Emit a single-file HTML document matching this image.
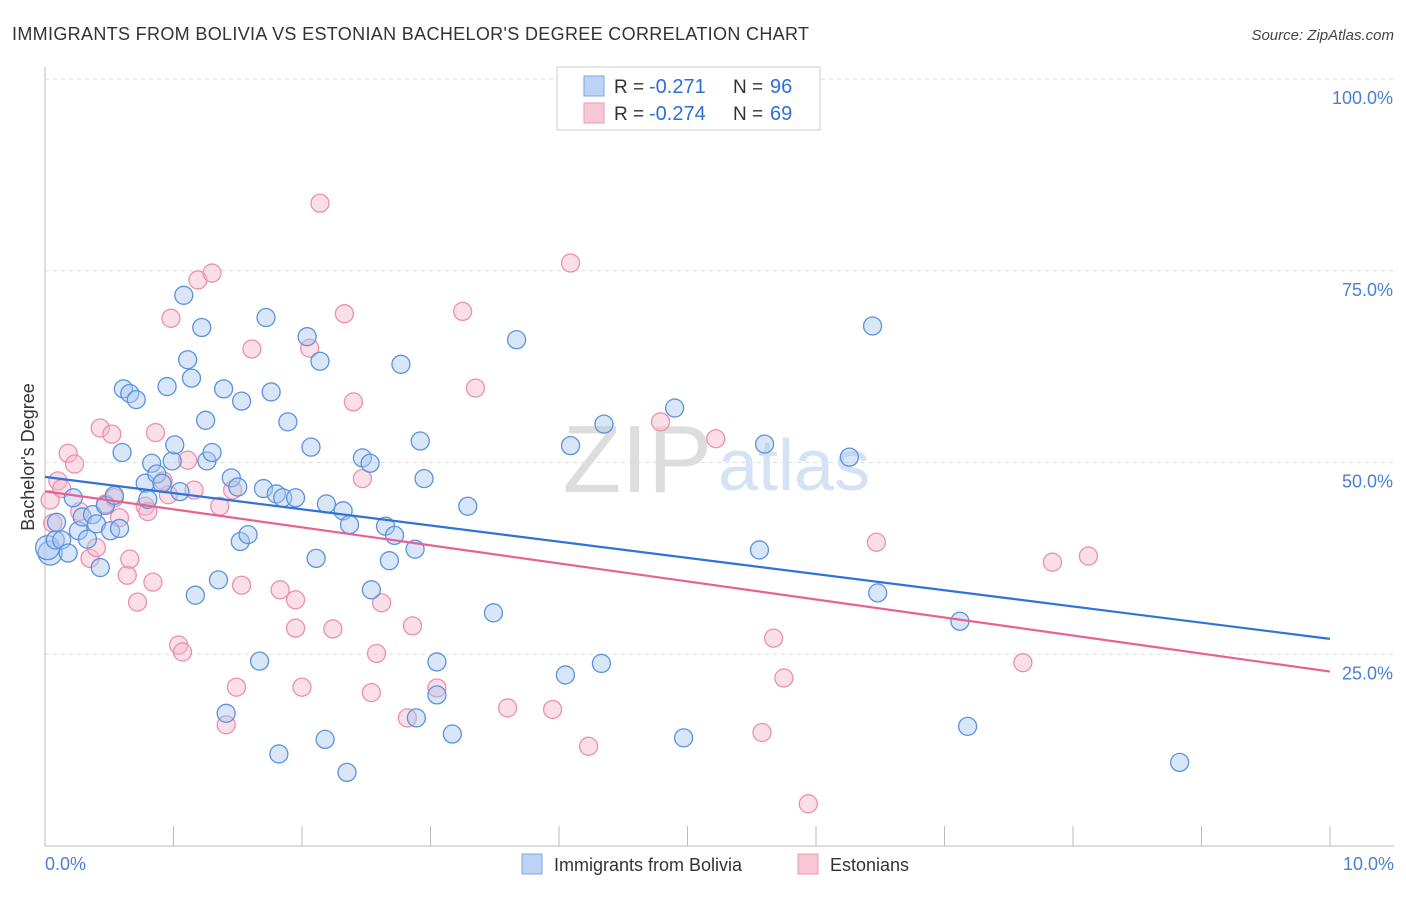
<!DOCTYPE html>
<html><head><meta charset="utf-8"><style>
body{margin:0;background:#fff;font-family:"Liberation Sans",sans-serif}
svg text{font-family:"Liberation Sans",sans-serif}
</style></head><body>
<svg id="chart" width="1406" height="892" xmlns="http://www.w3.org/2000/svg">
<text x="12" y="40" font-size="18" fill="#333" textLength="797">IMMIGRANTS FROM BOLIVIA VS ESTONIAN BACHELOR'S DEGREE CORRELATION CHART</text>
<text x="1394" y="40" font-size="15" fill="#444" font-style="italic" text-anchor="end">Source: ZipAtlas.com</text>
<g id="grid"></g>
<text x="712" y="492" font-size="96" fill="#ddd" font-family="Liberation Serif" text-anchor="end">ZIP</text>
<text x="718" y="490" font-size="72" fill="#d4e2f4">atlas</text>
<g id="pts"></g>
<g id="lines"></g>
<text transform="translate(34,457) rotate(-90)" font-size="18" fill="#333" text-anchor="middle">Bachelor's Degree</text>
<text x="45" y="870" font-size="18" fill="#4a7fd4">0.0%</text>
<text x="1394" y="870" font-size="18" fill="#4a7fd4" text-anchor="end">10.0%</text>
<g>
<rect x="557" y="67" width="263" height="63" fill="#fff" stroke="#ccc"/>
<rect x="584" y="76" width="20" height="20" fill="#bcd3f5" stroke="#7aa4e6"/>
<rect x="584" y="103" width="20" height="20" fill="#f9c6d5" stroke="#ee9ab3"/>
<text x="614" y="93" font-size="19" fill="#333">R =</text>
<text x="649" y="93" font-size="20" fill="#2f6fd4">-0.271</text>
<text x="733" y="93" font-size="19" fill="#333">N =</text>
<text x="770" y="93" font-size="20" fill="#2f6fd4">96</text>
<text x="614" y="120" font-size="19" fill="#333">R =</text>
<text x="649" y="120" font-size="20" fill="#2f6fd4">-0.274</text>
<text x="733" y="120" font-size="19" fill="#333">N =</text>
<text x="770" y="120" font-size="20" fill="#2f6fd4">69</text>
</g>
<g>
<rect x="522" y="854" width="20" height="20" fill="#bcd3f5" stroke="#7aa4e6"/>
<text x="554" y="871" font-size="18" fill="#333">Immigrants from Bolivia</text>
<rect x="798" y="854" width="20" height="20" fill="#f9c6d5" stroke="#ee9ab3"/>
<text x="830" y="871" font-size="18" fill="#333">Estonians</text>
</g>
</svg>
<script>
const yTicks=[25,50,75,100];
const xTicks=[0,1,2,3,4,5,6,7,8,9,10];
const blueX=[0.04,0.02,0.08,0.09,0.13,0.18,0.22,0.26,0.29,0.33,0.37,0.40,0.43,0.47,0.51,0.54,0.58,0.60,0.61,0.66,0.71,0.78,0.80,0.83,0.87,0.91,0.95,0.99,1.01,1.05,1.08,1.11,1.14,1.17,1.22,1.25,1.26,1.30,1.35,1.39,1.41,1.45,1.50,1.52,1.53,1.58,1.67,1.70,1.72,1.76,1.80,1.82,1.85,1.89,1.95,2.04,2.07,2.11,2.14,2.18,2.19,2.32,2.35,2.37,2.47,2.53,2.54,2.65,2.68,2.72,2.77,2.89,2.92,2.95,3.05,3.05,3.17,2.88,3.29,3.49,3.67,4.05,4.09,4.33,4.35,4.90,4.97,5.56,5.60,6.26,6.48,6.44,7.12,7.18,8.83];
const blueY=[38.2,38.9,39.9,42.2,39.9,38.2,45.4,41.1,42.9,40.0,43.2,42.0,36.3,44.4,41.1,45.7,41.4,51.3,59.6,59.0,58.2,47.3,45.2,49.9,48.5,47.3,59.9,50.2,52.3,46.2,71.8,63.4,61.0,32.7,67.6,55.5,50.2,51.3,34.7,59.6,17.3,48.0,46.8,39.7,58.0,40.6,24.1,46.6,68.9,59.2,45.9,12.0,45.4,55.3,45.4,66.4,52.0,37.5,63.2,13.9,44.6,43.7,9.6,41.9,50.6,49.9,33.4,41.7,37.2,40.5,62.8,16.7,52.8,47.9,24.0,19.7,14.6,38.7,44.3,30.4,66.0,22.3,52.2,23.8,55.0,57.1,14.1,38.6,52.4,50.7,33.0,67.8,29.3,15.6,10.9];
const pinkX=[0.04,0.06,0.10,0.13,0.18,0.23,0.27,0.35,0.40,0.43,0.47,0.52,0.54,0.58,0.64,0.66,0.72,0.78,0.80,0.84,0.86,0.92,0.96,0.98,1.04,1.07,1.11,1.16,1.19,1.30,1.36,1.41,1.46,1.49,1.53,1.61,1.83,1.95,1.95,2.00,2.06,2.14,2.24,2.33,2.40,2.47,2.54,2.58,2.62,2.82,2.86,3.05,3.25,3.35,3.60,3.95,4.09,4.23,4.79,5.22,5.58,5.67,5.75,5.94,6.47,7.61,7.84,8.12];
const pinkY=[45.1,42.1,47.6,46.6,51.2,49.8,43.6,37.5,38.9,54.5,44.6,53.7,45.4,42.8,35.3,37.4,31.8,44.3,43.6,34.4,53.9,47.6,45.8,68.8,26.2,25.3,50.3,46.4,73.8,74.7,44.3,15.8,46.4,20.7,34.0,64.8,33.4,32.1,28.4,20.7,64.9,83.8,28.3,69.4,57.9,47.9,20.0,25.1,31.7,16.7,28.7,20.6,69.7,59.7,18.0,17.8,76.0,13.0,55.3,53.1,14.8,27.1,21.9,5.5,39.6,23.9,37.0,37.8];
const X0=45,X1=1330,Y0=846,Y1=79;
const sx=v=>X0+(X1-X0)*v/10, sy=v=>Y0-(Y0-Y1)*v/100;
const NS="http://www.w3.org/2000/svg";
function mk(tag,attrs,parent){const e=document.createElementNS(NS,tag);for(const k in attrs)e.setAttribute(k,attrs[k]);parent.appendChild(e);return e;}
const grid=document.getElementById('grid');
const ax=mk('line',{x1:X0,y1:67,x2:X0,y2:846,stroke:'#bbb'},grid);


const bx=mk('line',{x1:X0,y1:846,x2:1394,y2:846,stroke:'#bbb'},grid);


yTicks.forEach(t=>{
 const l=mk('line',{x1:X0,y1:sy(t),x2:1394,y2:sy(t),stroke:'#ddd','stroke-dasharray':'4,4'},grid);
 
 
 const tx=mk('text',{x:1393,y:sy(t)+25,'font-size':18,fill:'#4a7fd4','text-anchor':'end'},grid);
 tx.textContent=t.toFixed(1)+'%';
 
 
});
xTicks.forEach(t=>{
 const l=mk('line',{x1:sx(t),y1:826,x2:sx(t),y2:846,stroke:'#bbb'},grid);
 
 
});
const pts=document.getElementById('pts');
function draw(xs,ys,fill,stroke,name){xs.forEach((x,i)=>{
 const c=mk('circle',{cx:sx(x),cy:sy(ys[i]),r:(x<0.06&&name==='blue-point')?12:9,fill:fill,'fill-opacity':0.45,stroke:stroke,'stroke-width':1.3},pts);
 
 
});}
draw(pinkX,pinkY,'#f7b9cc','#ec8fab','pink-point');
draw(blueX,blueY,'#a9c7f0','#5b92de','blue-point');
function fit(xs,ys){const n=xs.length;let mx=0,my=0;xs.forEach((x,i)=>{mx+=x;my+=ys[i]});mx/=n;my/=n;let a=0,b=0;xs.forEach((x,i)=>{a+=(x-mx)*(ys[i]-my);b+=(x-mx)*(x-mx)});const s=a/b;return [my-s*mx,s];}
const lines=document.getElementById('lines');
[[blueX,blueY,'#2f72d8','blue-trend-line'],[pinkX,pinkY,'#e8628f','pink-trend-line']].forEach(([xs,ys,col,nm])=>{
 const [b,s]=fit(xs,ys);
 const l=mk('line',{x1:sx(0),y1:sy(b),x2:sx(10),y2:sy(b+10*s),stroke:col,'stroke-width':2.2},lines);
 
 
});
</script>
</body></html>
